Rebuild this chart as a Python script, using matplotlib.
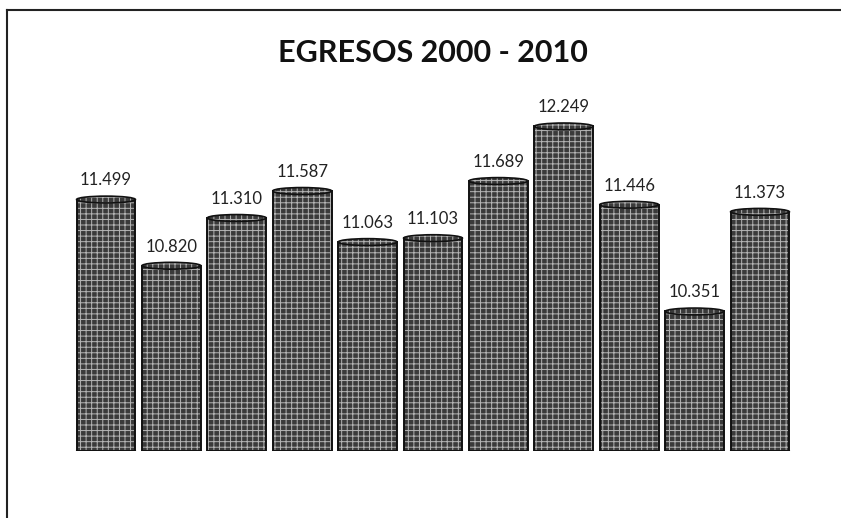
import matplotlib
matplotlib.use("Agg")
import matplotlib.pyplot as plt
from matplotlib.patches import Ellipse
from matplotlib.lines import Line2D

# Egresos por año 2000 - 2010
years = ["2000", "2001", "2002", "2003", "2004", "2005",
         "2006", "2007", "2008", "2009", "2010"]
egresos = [11499, 10820, 11310, 11587, 11063, 11103,
           11689, 12249, 11446, 10351, 11373]
labels = ["11.499", "10.820", "11.310", "11.587", "11.063", "11.103",
          "11.689", "12.249", "11.446", "10.351", "11.373"]

plt.rcParams['font.family'] = ['Lato', 'DejaVu Sans']
plt.rcParams['hatch.linewidth'] = 0.7

fig = plt.figure(figsize=(8.41, 5.18), dpi=100)
ax = fig.add_axes([73.3 / 841, 67 / 518, 719.4 / 841, 351 / 518])

ymin, ymax = 8920, 12520
ax.set_ylim(ymin, ymax)
ax.set_xlim(-0.5, len(years) - 0.5)

x = list(range(len(years)))
width = 0.9
heights = [v - ymin for v in egresos]
body = '#3a3a3a'
tex = '#b5b5b5'

# textured body of the cylinders
ax.bar(x, heights, bottom=ymin, width=width, color=body,
       hatch='+++', edgecolor=tex, linewidth=0, zorder=2)
# outline
ax.bar(x, heights, bottom=ymin, width=width, color='none',
       edgecolor='#111111', linewidth=1.4, zorder=3)

# rounded caps for a cylinder look
cap_h = 70
for xi, v in zip(x, egresos):
    ax.add_patch(Ellipse((xi, v), width, cap_h, facecolor=body,
                         edgecolor=tex, linewidth=0, hatch='+++', zorder=4))
    ax.add_patch(Ellipse((xi, v), width, cap_h, facecolor='none',
                         edgecolor='#111111', linewidth=1.2, zorder=5))
    ax.add_patch(Ellipse((xi, ymin), width, cap_h, facecolor='#1e1e1e',
                         edgecolor='#111111', linewidth=1.0, zorder=1))

for xi, v, lab in zip(x, egresos, labels):
    ax.annotate(lab, (xi, v), xytext=(0, 8), textcoords='offset points',
                ha='center', va='bottom', fontsize=12, color='#222222')

ax.axis('off')

fig.text(0.515, 0.880, "EGRESOS 2000 - 2010", ha='center', va='baseline',
         fontsize=22, fontweight='bold', color='#111111')

# scanned frame: top and left borders
fig.add_artist(Line2D([7 / 841, 1.0], [508 / 518, 508 / 518],
                      color='#222222', linewidth=1.5))
fig.add_artist(Line2D([7 / 841, 7 / 841], [0.0, 508 / 518],
                      color='#222222', linewidth=1.5))

fig.savefig("out.png", dpi=100)
